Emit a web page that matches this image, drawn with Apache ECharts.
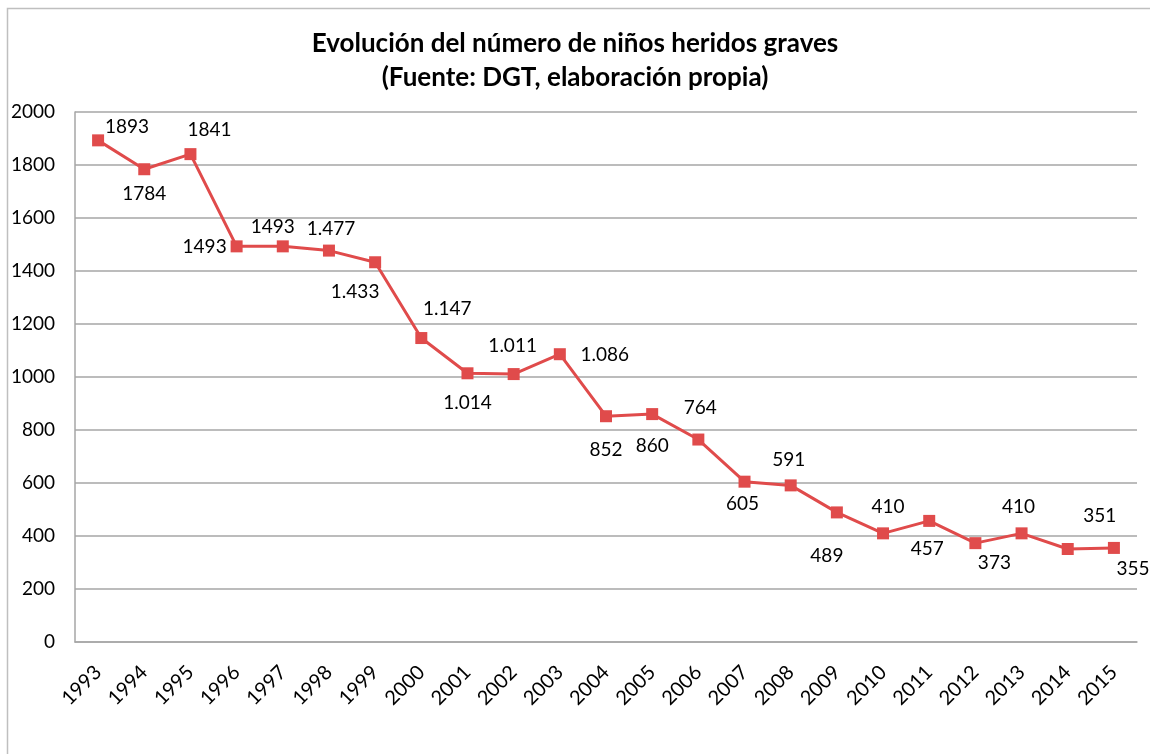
<!DOCTYPE html>
<html><head><meta charset="utf-8">
<script src="https://cdn.jsdelivr.net/npm/echarts@6/dist/echarts.min.js"></script>
<style>html,body{margin:0;padding:0;background:#fff}#c{width:1150px;height:754px}</style>
</head><body><div id="c"></div>
<script>
const categories = ['1993','1994','1995','1996','1997','1998','1999','2000','2001','2002','2003','2004','2005','2006','2007','2008','2009','2010','2011','2012','2013','2014','2015'];
const values = [1893,1784,1841,1493,1493,1477,1433,1147,1014,1011,1086,852,860,764,605,591,489,410,457,373,410,351,355];
const labelTexts = ['1893','1784','1841','1493','1493','1.477','1.433','1.147','1.014','1.011','1.086','852','860','764','605','591','489','410','457','373','410','351','355'];
const yTicks = [0,200,400,600,800,1000,1200,1400,1600,1800,2000];

const labelOffsets = [[29,-13],[0,25],[19,-24],[-32,1],[-10,-19],[2,-22],[-20,30],[26,-29],[0,30],[-1,-28],[45,1],[0,34],[0,32],[2,-32],[-2,22],[-2,-26],[-10,43],[5,-26],[-2,28],[19,20],[-3,-26],[32,-33],[19,21]];

const FONT = 'Lato';
const chart = echarts.init(document.getElementById('c'));
chart.setOption({
  animation: false,
  backgroundColor: '#fff',
  graphic: [{type:'rect', shape:{x:7.5,y:8.5,width:1300,height:900}, style:{fill:'none', stroke:'#bfbfbf', lineWidth:1.5}, z:-1}],
  title: {
    text: 'Evolución del número de niños heridos graves\n(Fuente: DGT, elaboración propia)',
    left: 'center', top: 22,
    textStyle: {fontFamily: FONT, fontWeight: 'bold', fontSize: 26, color: '#000', lineHeight: 34}
  },
  grid: {left: 75, right: 13, top: 112, bottom: 112, containLabel: false},
  xAxis: {
    type: 'category', data: categories, boundaryGap: true,
    axisLine: {show: true, lineStyle: {color: '#a6a6a6', width: 1.5}},
    axisTick: {show: false},
    axisLabel: {rotate: 45, fontFamily: FONT, fontSize: 20, color: '#000', margin: 27, interval: 0}
  },
  yAxis: {
    type: 'value', min: 0, max: 2000, interval: 200,
    axisLine: {show: true, lineStyle: {color: '#a6a6a6', width: 1.5}},
    axisTick: {show: false},
    splitLine: {show: true, lineStyle: {color: '#a6a6a6', width: 1.5}},
    axisLabel: {fontFamily: FONT, fontSize: 19, color: '#000', margin: 20,
      formatter: v => yTicks.includes(v) ? String(v) : ''}
  },
  series: [{
    type: 'line',
    data: values.map((v, i) => ({
      value: v,
      label: {show: true, position: 'inside', offset: labelOffsets[i], formatter: labelTexts[i]}
    })),
    symbol: 'rect', symbolSize: 12,
    lineStyle: {color: '#E04B4B', width: 3},
    itemStyle: {color: '#E04B4B'},
    label: {fontFamily: FONT, fontSize: 19, color: '#000'},
    z: 3
  }]
});
</script></body></html>
